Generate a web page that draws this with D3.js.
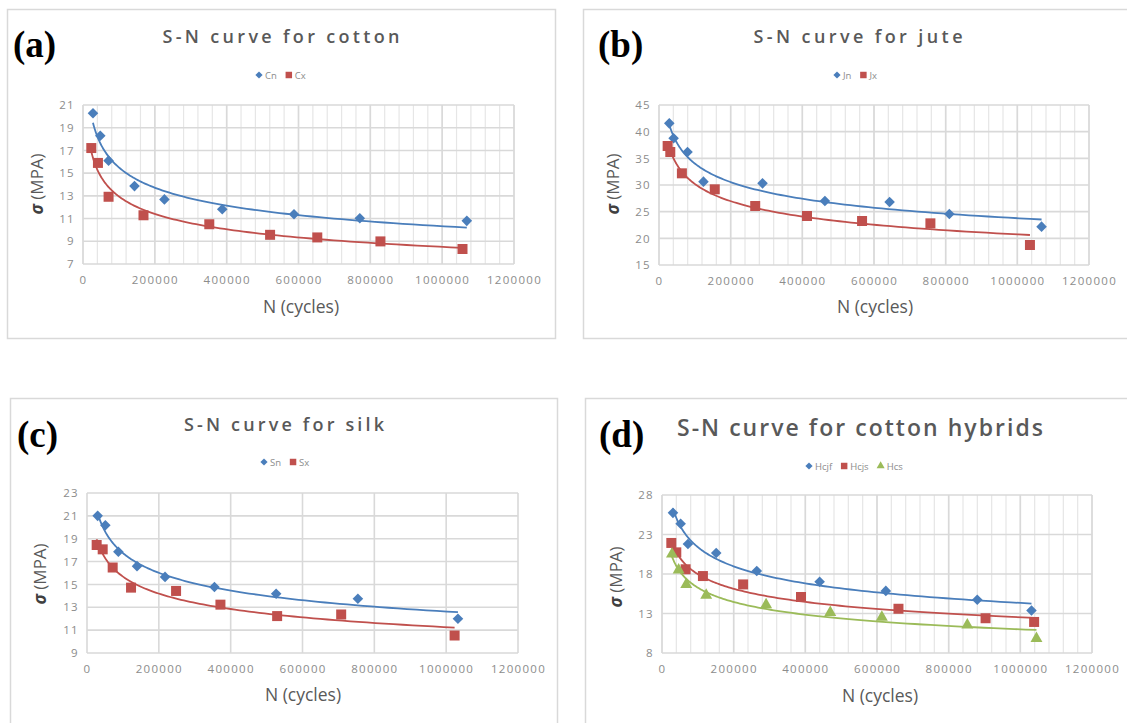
<!DOCTYPE html>
<html>
<head>
<meta charset="utf-8">
<script src="https://cdn.jsdelivr.net/npm/d3@7"></script>
<style>
body { margin: 0; background: #fff; }
svg { display: block; }
</style>
</head>
<body>
<script>
// eje x comun
var xTicks = [0, 200000, 400000, 600000, 800000, 1000000, 1200000];

// (a) algodon
var cnN = [27800, 48100, 71200, 143400, 226700, 387700, 587500, 770700, 1068600];
var cnS = [20.27, 18.29, 16.10, 13.86, 12.69, 11.82, 11.38, 11.03, 10.80];
var cxN = [23100, 41600, 71200, 168400, 351600, 520900, 652300, 828100, 1056600];
var cxS = [17.21, 15.90, 12.92, 11.29, 10.50, 9.57, 9.34, 8.99, 8.32];
var cottonTicks = [7, 9, 11, 13, 15, 17, 19, 21];

// (b) yute
var jnN = [28700, 40700, 79600, 124100, 288900, 463000, 643500, 810200, 1067600];
var jnS = [41.56, 38.75, 36.19, 30.63, 30.31, 27.0, 26.81, 24.56, 22.19];
var jxN = [24100, 31500, 63900, 155600, 268500, 413000, 566700, 757400, 1035200];
var jxS = [37.31, 36.19, 32.19, 29.19, 26.06, 24.19, 23.25, 22.81, 18.75];
var juteTicks = [15, 20, 25, 30, 35, 40, 45];

// (c) seda
var snN = [29700, 51100, 87300, 139300, 217300, 354800, 526600, 754200, 1032800];
var snS = [21.0, 20.18, 17.86, 16.60, 15.66, 14.78, 14.19, 13.75, 11.99];
var sxN = [26900, 43700, 71500, 122600, 248000, 371500, 529400, 707700, 1023500];
var sxS = [18.45, 18.07, 16.48, 14.72, 14.43, 13.23, 12.23, 12.37, 10.53];
var silkTicks = [9, 11, 13, 15, 17, 19, 21, 23];

// (d) hibridos
var hcjfN = [30600, 52000, 72400, 151300, 264500, 439900, 624600, 879800, 1031100];
var hcjfS = [25.74, 24.37, 21.80, 20.65, 18.38, 17.02, 15.86, 14.75, 13.38];
var hcjsN = [26000, 39900, 65900, 114200, 226400, 387900, 659900, 903000, 1038500];
var hcjsS = [21.93, 20.74, 18.60, 17.74, 16.68, 15.09, 13.60, 12.40, 11.93];
var hcsN = [27800, 46400, 67700, 123400, 290500, 469600, 613500, 852000, 1045000];
var hcsS = [20.52, 18.51, 16.68, 15.31, 14.11, 13.13, 12.53, 11.55, 9.84];
var hybridTicks = [8, 13, 18, 23, 28];

var BLUE = '#4a7ebb', RED = '#c0504d', GREEN = '#9bbb59';

var panels = [
	{ tag: '(a)', title: 'S-N curve for cotton', ticks: cottonTicks, minor: true,
	  frame: [7, 9, 555, 338], plot: [83, 105, 514, 264],
	  tagPos: [13, 57], titlePos: [281, 43, 237, 18], legY: 75, legX: 259,
	  yLab: [43, 184], xLab: [301, 313],
	  series: [{ name: 'Cn', n: cnN, s: cnS, c: BLUE, m: 'diamond' },
	           { name: 'Cx', n: cxN, s: cxS, c: RED, m: 'square' }] },
	{ tag: '(b)', title: 'S-N curve for jute', ticks: juteTicks, minor: true,
	  frame: [583, 9, 1140, 338], plot: [659, 105, 1089, 265],
	  tagPos: [598, 57], titlePos: [858, 43, 209, 18], legY: 75, legX: 837,
	  yLab: [619, 184], xLab: [875, 313],
	  series: [{ name: 'Jn', n: jnN, s: jnS, c: BLUE, m: 'diamond' },
	           { name: 'Jx', n: jxN, s: jxS, c: RED, m: 'square' }] },
	{ tag: '(c)', title: 'S-N curve for silk', ticks: silkTicks, minor: false,
	  frame: [10, 398, 557, 740], plot: [87, 493, 518, 653],
	  tagPos: [17, 447], titlePos: [284, 431, 200, 18], legY: 462, legX: 264,
	  yLab: [46, 574], xLab: [303, 701],
	  series: [{ name: 'Sn', n: snN, s: snS, c: BLUE, m: 'diamond' },
	           { name: 'Sx', n: sxN, s: sxS, c: RED, m: 'square' }] },
	{ tag: '(d)', title: 'S-N curve for cotton hybrids', ticks: hybridTicks, minor: true,
	  frame: [585, 398, 1140, 740], plot: [662, 495, 1092, 653],
	  tagPos: [599, 447], titlePos: [860, 436, 366, 23], legY: 466, legX: 809,
	  yLab: [622, 577], xLab: [880, 702],
	  series: [{ name: 'Hcjf', n: hcjfN, s: hcjfS, c: BLUE, m: 'diamond' },
	           { name: 'Hcjs', n: hcjsN, s: hcjsS, c: RED, m: 'square' },
	           { name: 'Hcs', n: hcsN, s: hcsS, c: GREEN, m: 'triangle' }] }
];

var svg = d3.select('body').append('svg')
	.attr('width', 1127)
	.attr('height', 723);

svg.append('rect').attr('width', 1127).attr('height', 723).attr('fill', '#fff');

// ajuste potencial y = k * x^b (linea de tendencia, regresion en log-log)
function powerFit(n, s) {
	var lx = n.map(function(v) { return Math.log(v); });
	var ly = s.map(function(v) { return Math.log(v); });
	var mx = d3.mean(lx), my = d3.mean(ly);
	var num = 0, den = 0;
	for (var i = 0; i < lx.length; i++) {
		num += (lx[i] - mx) * (ly[i] - my);
		den += (lx[i] - mx) * (lx[i] - mx);
	}
	var b = num / den;
	return { b: b, k: Math.exp(my - b * mx) };
}

function markerPath(m, big) {
	if (m == 'diamond') return d3.symbol(d3.symbolSquare, big ? 56 : 26)();
	if (m == 'square') return d3.symbol(d3.symbolSquare, big ? 100 : 42)();
	return d3.symbol(d3.symbolTriangle, big ? 62 : 28)();
}

function markerTransform(m, x, y) {
	return 'translate(' + x + ',' + y + ')' + (m == 'diamond' ? ' rotate(45)' : '');
}

panels.forEach(function(p) {
	var g = svg.append('g');

	// marco
	g.append('rect')
		.attr('x', p.frame[0] + 0.5).attr('y', p.frame[1] + 0.5)
		.attr('width', p.frame[2] - p.frame[0]).attr('height', p.frame[3] - p.frame[1])
		.attr('fill', '#fff').attr('stroke', '#d9d9d9').attr('stroke-width', 1.5);

	var x = d3.scaleLinear().domain([0, 1200000]).range([p.plot[0], p.plot[2]]);
	var y = d3.scaleLinear().domain(d3.extent(p.ticks)).range([p.plot[3], p.plot[1]]);

	// rejilla menor
	if (p.minor) {
		g.selectAll('.minor')
			.data(d3.range(0, 1200001, 40000))
			.enter().append('line')
			.attr('x1', function(d) { return x(d); }).attr('x2', function(d) { return x(d); })
			.attr('y1', p.plot[1]).attr('y2', p.plot[3])
			.attr('stroke', '#e6e6e6').attr('stroke-width', 1.2);
	}

	// rejilla mayor
	g.selectAll('.vgrid')
		.data(xTicks)
		.enter().append('line')
		.attr('x1', function(d) { return x(d); }).attr('x2', function(d) { return x(d); })
		.attr('y1', p.plot[1]).attr('y2', p.plot[3])
		.attr('stroke', '#d9d9d9').attr('stroke-width', 1.6);

	g.selectAll('.hgrid')
		.data(p.ticks)
		.enter().append('line')
		.attr('x1', p.plot[0]).attr('x2', p.plot[2])
		.attr('y1', function(d) { return y(d); }).attr('y2', function(d) { return y(d); })
		.attr('stroke', '#d9d9d9').attr('stroke-width', 1.6);

	// ejes (solo etiquetas)
	var yAxis = g.append('g')
		.attr('transform', 'translate(' + (p.plot[0] - 2) + ',0)')
		.call(d3.axisLeft(y).tickValues(p.ticks).tickSize(0).tickPadding(6));
	var xAxis = g.append('g')
		.attr('transform', 'translate(0,' + (p.plot[3] + 4) + ')')
		.call(d3.axisBottom(x).tickValues(xTicks).tickSize(0).tickPadding(8).tickFormat(d3.format('d')));
	[yAxis, xAxis].forEach(function(ax) {
		ax.select('.domain').remove();
		ax.selectAll('text')
			.attr('fill', '#8c8c8c')
			.style('font-family', 'Open Sans, sans-serif')
			.style('font-size', '11.5px')
			.style('letter-spacing', '1.3px');
	});

	// lineas de tendencia y puntos
	p.series.forEach(function(sr) {
		var f = powerFit(sr.n, sr.s);
		var lo = d3.min(sr.n), hi = d3.max(sr.n);
		var pts = d3.range(0, 121).map(function(i) {
			var n = Math.exp(Math.log(lo) + (Math.log(hi) - Math.log(lo)) * i / 120);
			return [n, f.k * Math.pow(n, f.b)];
		});
		g.append('path')
			.datum(pts)
			.attr('fill', 'none')
			.attr('stroke', sr.c)
			.attr('stroke-width', 1.8)
			.attr('d', d3.line().x(function(d) { return x(d[0]); }).y(function(d) { return y(d[1]); }));

		g.selectAll(null)
			.data(d3.zip(sr.n, sr.s))
			.enter().append('path')
			.attr('d', markerPath(sr.m, true))
			.attr('transform', function(d) { return markerTransform(sr.m, x(d[0]), y(d[1])); })
			.attr('fill', sr.c);
	});

	// leyenda
	var lx = p.legX;
	p.series.forEach(function(sr) {
		g.append('path')
			.attr('d', markerPath(sr.m, false))
			.attr('transform', markerTransform(sr.m, lx, p.legY))
			.attr('fill', sr.c);
		var t = g.append('text')
			.attr('x', lx + 6).attr('y', p.legY + 3.5)
			.attr('fill', '#8c8c8c')
			.style('font-family', 'Open Sans, sans-serif')
			.style('font-size', '9.5px')
			.text(sr.name);
		lx += 6 + t.node().getComputedTextLength() + 12;
	});

	// titulo
	g.append('text')
		.attr('x', p.titlePos[0]).attr('y', p.titlePos[1])
		.attr('text-anchor', 'middle')
		.attr('textLength', p.titlePos[2])
		.attr('lengthAdjust', 'spacing')
		.attr('fill', '#595959')
		.style('font-family', 'Open Sans, sans-serif')
		.style('font-size', p.titlePos[3] + 'px')
		.style('font-weight', 600)
		.text(p.title);

	// etiqueta del panel
	g.append('text')
		.attr('x', p.tagPos[0]).attr('y', p.tagPos[1])
		.attr('fill', '#000')
		.style('font-family', 'Liberation Serif, serif')
		.style('font-size', '37px')
		.style('font-weight', 'bold')
		.text(p.tag);

	// titulos de ejes
	var yl = g.append('text')
		.attr('transform', 'translate(' + p.yLab[0] + ',' + p.yLab[1] + ') rotate(-90)')
		.attr('text-anchor', 'middle')
		.attr('fill', '#595959')
		.style('font-family', 'Open Sans, sans-serif')
		.style('font-size', '17px');
	yl.append('tspan').style('font-style', 'italic').style('font-weight', 'bold').attr('fill', '#404040').text('σ');
	yl.append('tspan').text(' (MPA)');

	g.append('text')
		.attr('x', p.xLab[0]).attr('y', p.xLab[1])
		.attr('text-anchor', 'middle')
		.attr('fill', '#595959')
		.style('font-family', 'Open Sans, sans-serif')
		.style('font-size', '17.5px')
		.text('N (cycles)');
});
</script>
</body>
</html>
